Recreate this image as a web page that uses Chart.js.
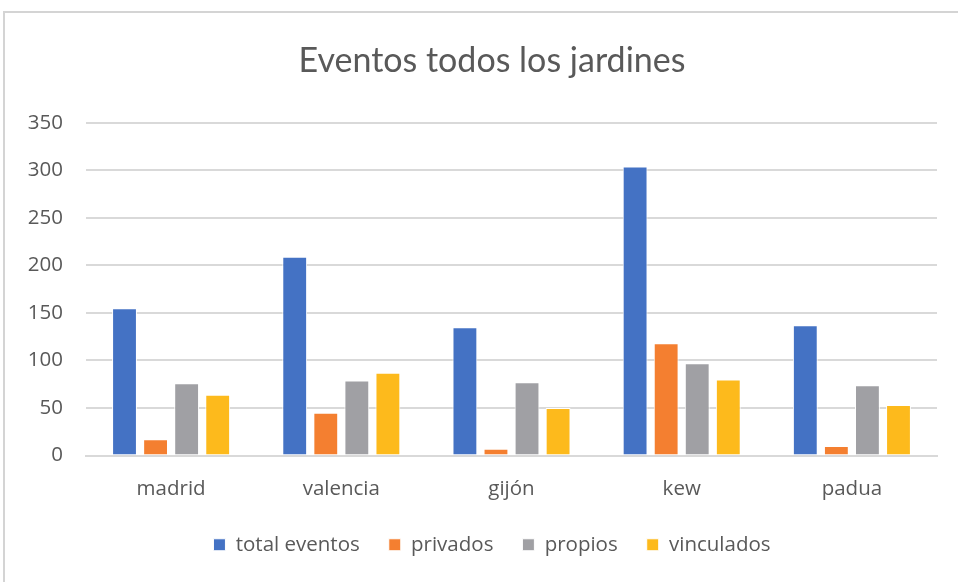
<!DOCTYPE html>
<html>
<head>
<meta charset="utf-8">
<script src="https://cdn.jsdelivr.net/npm/chart.js@4/dist/chart.umd.min.js"></script>
<style>
  html, body { margin: 0; padding: 0; background: #fff; }
  #wrap { position: relative; width: 958px; height: 582px; overflow: hidden; }
  #frame { position: absolute; left: 3px; top: 11px; width: 1000px; height: 700px; border: 2px solid #d4d4d4; }
  #chart { position: absolute; left: 0; top: 0; }
</style>
</head>
<body>
<div id="wrap">
  <div id="frame"></div>
  <canvas id="chart" width="958" height="582"></canvas>
</div>
<script>
const jardines = ['madrid', 'valencia', 'gijón', 'kew', 'padua'];
const totalEventos = [155, 209, 135, 304, 137];
const privados = [17, 45, 7, 118, 10];
const propios = [76, 79, 77, 97, 74];
const vinculados = [64, 87, 50, 80, 53];
const yMax = 350;
const yStep = 50;

const textColor = '#595959';
const gridColor = '#d9d9d9';
const labelFont = '"Open Sans", sans-serif';
const titleFont = 'Lato, "Open Sans", sans-serif';

function serie(label, data, color) {
    return {
        label: label,
        data: data,
        backgroundColor: color,
        borderColor: '#ffffff',
        borderWidth: 1,
        categoryPercentage: 0.73,
        barPercentage: 0.8
    };
}

// the y labels sit in the left padding, so widen the box they are clipped to
const widenYLabels = {
    id: 'widenYLabels',
    afterLayout(chart) { chart.scales.y.left = 0; }
};

const ctx = document.getElementById('chart').getContext('2d');
new Chart(ctx, {
    type: 'bar',
    data: {
        labels: jardines,
        datasets: [
            serie('total eventos', totalEventos, '#4472c4'),
            serie('privados', privados, '#f47f30'),
            serie('propios', propios, '#a0a0a4'),
            serie('vinculados', vinculados, '#fdba1c')
        ]
    },
    plugins: [widenYLabels],
    options: {
        responsive: false,
        animation: false,
        // left padding shifts the centre of title and legend like in the original
        layout: { padding: { left: 47, right: 21, top: 0, bottom: 17 } },
        plugins: {
            title: {
                display: true,
                text: 'Eventos todos los jardines',
                color: textColor,
                font: { family: titleFont, size: 34, weight: 'normal' },
                padding: { top: 41, bottom: 41 }
            },
            legend: {
                position: 'bottom',
                labels: {
                    color: textColor,
                    font: { family: labelFont, size: 20.5 },
                    boxWidth: 12,
                    boxHeight: 12,
                    padding: 29
                }
            },
            tooltip: { enabled: false }
        },
        scales: {
            x: {
                grid: { display: false },
                border: { color: gridColor, width: 2 },
                ticks: { color: textColor, font: { family: labelFont, size: 20.5 }, padding: 13 },
                afterFit: s => { s.height = 50; }
            },
            y: {
                min: 0,
                max: yMax,
                ticks: { stepSize: yStep, color: textColor, font: { family: labelFont, size: 20.5 }, padding: 23 },
                grid: { color: gridColor, lineWidth: 2, drawTicks: false },
                border: { display: false },
                afterFit: s => { s.width = 39; }
            }
        }
    }
});
</script>
</body>
</html>
